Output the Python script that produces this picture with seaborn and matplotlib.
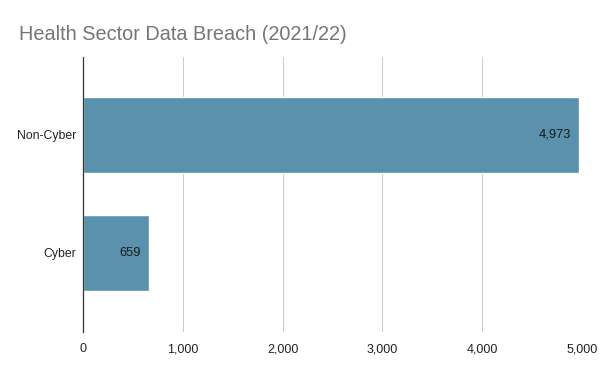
import matplotlib
matplotlib.use("Agg")
import matplotlib.pyplot as plt
import seaborn as sns
import pandas as pd

categories = ["Non-Cyber", "Cyber"]
values = [4973, 659]
xticks = [0, 1000, 2000, 3000, 4000, 5000]

sns.set_theme(style="white")
plt.rcParams['font.family'] = ['Liberation Sans', 'DejaVu Sans']

df = pd.DataFrame({"cat": categories, "val": values})

fig = plt.figure(figsize=(6, 3.71), dpi=100)
ax = fig.add_axes([0.1383, 0.105, 0.97 - 0.1383, 0.8464 - 0.105])
sns.barplot(data=df, y="cat", x="val", color="#5a91ad", saturation=1, width=0.645, ax=ax, zorder=3)

ax.set_xlim(0, 5000)
ax.set_ylim(1.67, -0.66)
ax.set_xticks(xticks)
ax.set_xticklabels([f"{t:,}" for t in xticks], fontsize=9, color="#222222")
ax.tick_params(axis="y", labelsize=8.8, labelcolor="#222222", length=0, pad=5)
ax.tick_params(axis="x", length=0, pad=8)
ax.set_xlabel("")
ax.set_ylabel("")
ax.grid(axis="x", color="#cccccc", linewidth=0.75, zorder=0)
for s in ["top", "right", "bottom"]:
    ax.spines[s].set_visible(False)
ax.spines["left"].set_color("#333333")
ax.spines["left"].set_linewidth(0.9)
ax.spines["left"].set_zorder(4)

for i, v in enumerate(values):
    ax.text(v - 80, i, f"{v:,}", ha="right", va="center", fontsize=9.3, color="#1a1a1a", zorder=5)

fig.text(19 / 600, 1 - 40 / 371, "Health Sector Data Breach (2021/22)", fontsize=14.3, color="#757575", ha="left", va="baseline")

fig.savefig("out.png", dpi=100)
